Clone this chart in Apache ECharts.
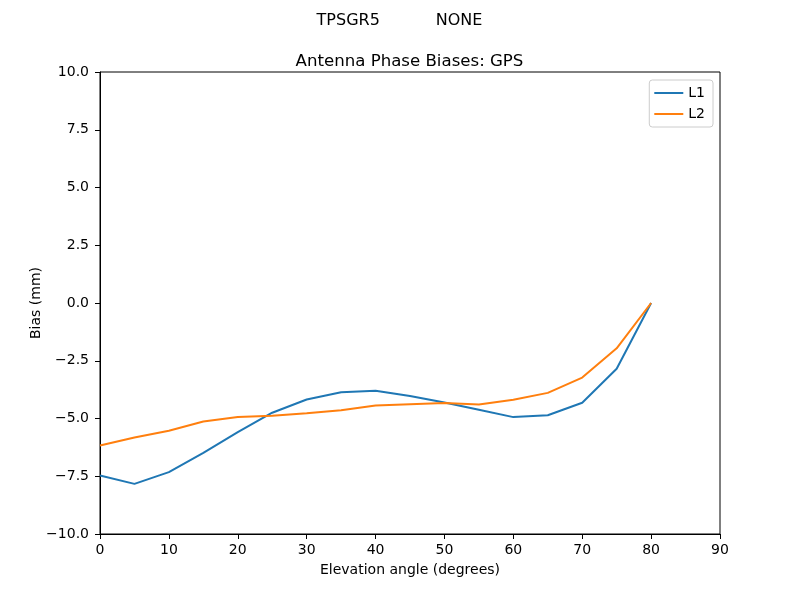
<!DOCTYPE html>
<html><head><meta charset="utf-8">
<script src="https://cdn.jsdelivr.net/npm/echarts@6/dist/echarts.min.js"></script>
<style>html,body{margin:0;padding:0;background:#fff}#c{width:800px;height:600px}</style>
</head><body><div id="c"></div>
<script>
const elevation = [0,5,10,15,20,25,30,35,40,45,50,55,60,65,70,75,80];
const L1 = [-7.47,-7.83,-7.32,-6.49,-5.59,-4.75,-4.18,-3.86,-3.80,-4.03,-4.31,-4.62,-4.94,-4.86,-4.32,-2.85,0.0];
const L2 = [-6.17,-5.82,-5.53,-5.13,-4.94,-4.88,-4.77,-4.64,-4.44,-4.38,-4.33,-4.39,-4.19,-3.89,-3.23,-1.96,0.0];
const seriesNames = ['L1','L2'];
const colors = ['#1f77b4','#ff7f0e'];
const font = 'DejaVu Sans';
const fmt = v => (v < 0 ? '\u2212' : '') + Math.abs(v).toFixed(1);
const chart = echarts.init(document.getElementById('c'), null, {renderer:'canvas'});
chart.setOption({
  animation:false,
  title:[
    {text:'TPSGR5           NONE', left:394.5, textAlign:'center', top:8, textStyle:{fontFamily:font,fontSize:16,fontWeight:'normal',color:'#000'}},
    {text:'Antenna Phase Biases: GPS', left:404.5, textAlign:'center', top:48, textStyle:{fontFamily:font,fontSize:16.6,fontWeight:'normal',color:'#000'}}
  ],
  grid:{left:100,right:80,top:72,bottom:66,show:true,borderColor:'#000',borderWidth:1,backgroundColor:'transparent'},
  legend:{right:87,top:80,orient:'vertical',itemWidth:29,itemHeight:2,itemGap:7,itemTextGap:10,
    padding:[6,8,6,5],borderColor:'#ccc',borderWidth:1,borderRadius:3,
    textStyle:{fontFamily:font,fontSize:14,color:'#000'},
    data:seriesNames.map(n=>({name:n,icon:'rect'}))},
  xAxis:{type:'value',min:0,max:90,interval:10,
    name:'Elevation angle (degrees)',nameLocation:'middle',nameGap:29,nameMoveOverlap:false,
    nameTextStyle:{fontFamily:font,fontSize:14,color:'#000'},
    axisLine:{onZero:false,lineStyle:{color:'#000'}},axisTick:{inside:false,length:5,lineStyle:{color:'#000'}},
    axisLabel:{fontFamily:font,fontSize:14,color:'#000',margin:9},splitLine:{show:false}},
  yAxis:{type:'value',min:-10,max:10,interval:2.5,
    name:'Bias (mm)',nameLocation:'middle',nameGap:57,nameMoveOverlap:false,
    nameTextStyle:{fontFamily:font,fontSize:14,color:'#000'},
    axisLine:{onZero:false,lineStyle:{color:'#000'}},axisTick:{inside:false,length:5,lineStyle:{color:'#000'}},
    axisLabel:{fontFamily:font,fontSize:14,color:'#000',margin:11,formatter:fmt},splitLine:{show:false}},
  series:[L1,L2].map((d,i)=>({name:seriesNames[i],type:'line',showSymbol:false,symbol:'none',
    lineStyle:{width:2,color:colors[i]},itemStyle:{color:colors[i]},
    data:elevation.map((x,j)=>[x,d[j]])}))
});
</script></body></html>
